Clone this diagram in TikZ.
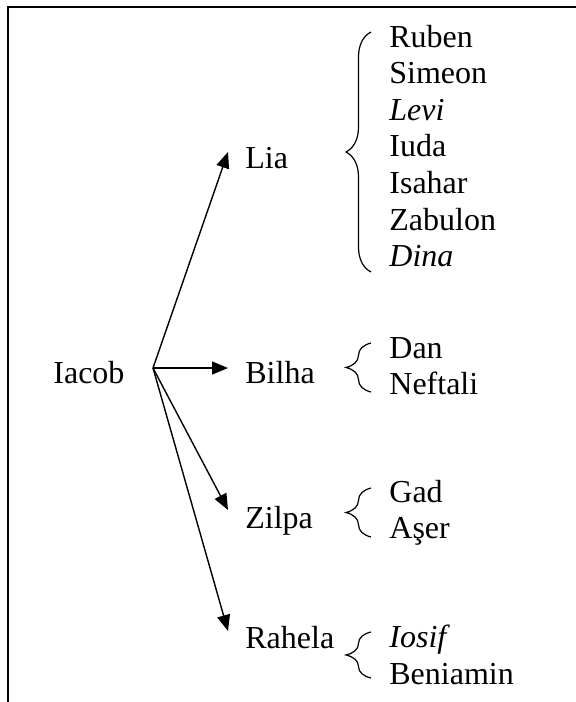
\documentclass[tikz,border=0pt]{standalone}
\usepackage{fontspec}
\setmainfont{Liberation Serif}
\usetikzlibrary{arrows.meta,decorations.pathreplacing}

\tikzset{
  wife/.style={anchor=base west, inner xsep=8.5pt, inner ysep=0pt},
  kid/.style={anchor=base west, inner sep=0pt},
  sons/.style={decorate, decoration={brace, amplitude=12.5pt}, line width=0.6pt},
  marry/.style={line width=0.7pt, -{Triangle[length=8pt, width=6.5pt]}}
}

\begin{document}
\begin{tikzpicture}[x=0.5pt, y=-0.5pt, font=\fontsize{16}{18}\selectfont]
  \useasboundingbox (0,0) rectangle (576,702);
  \draw[line width=1pt] (8,702) -- (8,7) -- (576,7);

  \node[kid] (iacob) at (53,383) {Iacob};
  \coordinate (fork) at (153,368);

  \node[wife] (lia) at (228,168) {Lia};
  \node[wife] (bilha) at (228,383) {Bilha};
  \node[wife] (zilpa) at (228,528) {Zilpa};
  \node[wife] (rahela) at (228,648) {Rahela};

  \draw[marry] (fork) -- ([yshift=8pt]lia.base west);
  \draw[marry] (fork) -- ([yshift=7.5pt]bilha.base west);
  \draw[marry] (fork) -- ([yshift=9pt]zilpa.base west);
  \draw[marry] (fork) -- ([yshift=8.5pt]rahela.base west);

  % children of Lia
  \foreach \name [count=\i] in {Ruben,Simeon,\textit{Levi},Iuda,Isahar,Zabulon,\textit{Dina}}
    \node[kid] (lia-\i) at (389,{10.4+36.6*\i}) {\name};
  \draw[sons] (371,272) -- (371,32);

  % children of Bilha
  \node[kid] (dan) at (389,358) {Dan};
  \node[kid] (neftali) at (389,394) {Neftali};
  \draw[sons] (371,392) -- (371,343);

  % children of Zilpa
  \node[kid] (gad) at (389,502) {Gad};
  \node[kid] (aser) at (389,538) {Aşer};
  \draw[sons] (371,537) -- (371,488);

  % children of Rahela
  \node[kid] (iosif) at (389,647) {\textit{Iosif}};
  \node[kid] (beniamin) at (389,684) {Beniamin};
  \draw[sons] (371,678) -- (371,632);
\end{tikzpicture}
\end{document}
